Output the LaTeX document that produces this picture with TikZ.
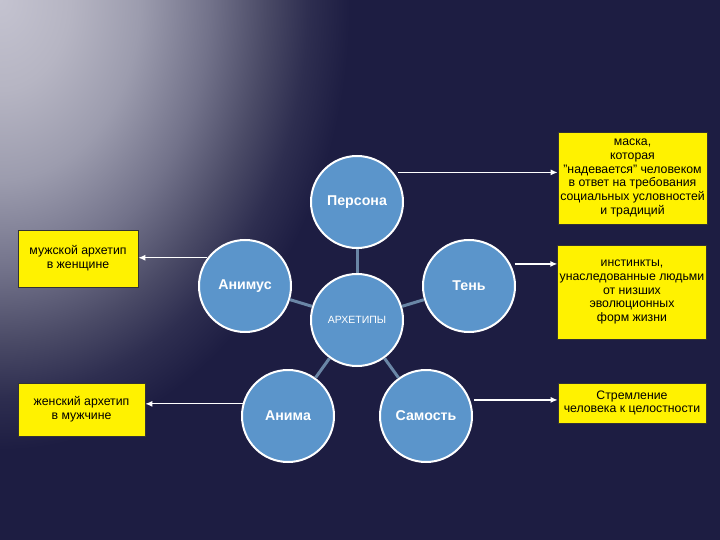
\documentclass[tikz,border=0pt]{standalone}
\usepackage{fontspec}
\setmainfont{Liberation Sans}
\usepackage{xcolor}
\usepackage{tikz}
\usetikzlibrary{positioning,arrows.meta}

\definecolor{navy}{HTML}{1D1D42}
\definecolor{glowA}{HTML}{C4C3D0}
\definecolor{glowB}{HTML}{B6B5C3}
\definecolor{glowC}{HTML}{9C9CAE}
\definecolor{glowD}{HTML}{72728A}
\definecolor{glowE}{HTML}{4A4A66}
\definecolor{glowF}{HTML}{2E2E50}
\definecolor{ballfill}{HTML}{5B95CB}
\definecolor{spoke}{HTML}{6A86A6}

\pgfdeclareradialshading{glow}{\pgfpoint{0bp}{0bp}}{color(0bp)=(glowA); color(5bp)=(glowB); color(10bp)=(glowC); color(15bp)=(glowD); color(19bp)=(glowE); color(22bp)=(glowF); color(25bp)=(navy); color(50bp)=(navy)}

\tikzset{
  ball/.style={circle, draw=white, line width=2pt, fill=ballfill, minimum size=92pt,
    inner sep=0pt, text=white, font=\bfseries\fontsize{14.2}{16}\selectfont},
  note/.style={rectangle, draw=black!80, line width=0.6pt, fill=yellow, align=center,
    inner sep=2pt, font=\fontsize{12.3}{13.8}\selectfont},
  spokeline/.style={spoke, line width=3pt},
  pointer/.style={->, >={Latex[length=7pt,width=6pt]}, white, line width=1.3pt},
}

\begin{document}
\begin{tikzpicture}[x=1pt, y=-1pt]
    % background
    \fill[navy] (0,0) rectangle (720,540);
    \begin{scope}
        \clip (0,0) rectangle (720,540);
        \shade[shading=glow] (0,0) ellipse (350pt and 450pt);
    \end{scope}
    \useasboundingbox (0,0) rectangle (720,540);

    % circles
    \node[ball, font=\fontsize{10.5}{12}\selectfont] (arch) at (357,320) {АРХЕТИПЫ};
    \node[ball] (persona) at (357,202) {Персона};
    \node[ball] (animus) at (245,286) {Анимус};
    \node[ball] (shadow) at (469,286) {Тень};
    \node[ball] (anima) at (288,416) {Анима};
    \node[ball] (self) at (426,416) {Самость};

    % notes
    \node[note, minimum width=149pt, minimum height=92pt] (mask) at (632.5,178)
        {маска,\\которая\\"надевается" человеком\\в ответ на требования\\социальных условностей\\и традиций};
    \node[note, minimum width=148pt, minimum height=94pt] (instinct) at (632,292)
        {инстинкты,\\унаследованные людьми\\от низших\\эволюционных\\форм жизни};
    \node[note, minimum width=148pt, minimum height=40pt] (whole) at (632,403)
        {Стремление\\человека к целостности};
    \node[note, minimum width=120pt, minimum height=57pt] (male) at (78,258.5)
        {мужской архетип\\в женщине};
    \node[note, minimum width=127pt, minimum height=53pt] (female) at (81.5,409.5)
        {женский архетип\\в мужчине};

    % spokes
    \draw[spokeline] (arch) -- (persona);
    \draw[spokeline] (arch) -- (animus);
    \draw[spokeline] (arch) -- (shadow);
    \draw[spokeline] (arch) -- (anima);
    \draw[spokeline] (arch) -- (self);

    % pointers
    \draw[pointer, shorten <=4pt] (persona.39) -- (persona.39 -| mask.west);
    \draw[pointer, shorten <=4pt] (shadow.28) -- (shadow.28 -| instinct.west);
    \draw[pointer, shorten <=4pt] (self.20) -- (self.20 -| whole.west);
    \draw[pointer] (animus.143) -- (animus.143 -| male.east);
    \draw[pointer] (anima.165) -- (anima.165 -| female.east);
\end{tikzpicture}
\end{document}
